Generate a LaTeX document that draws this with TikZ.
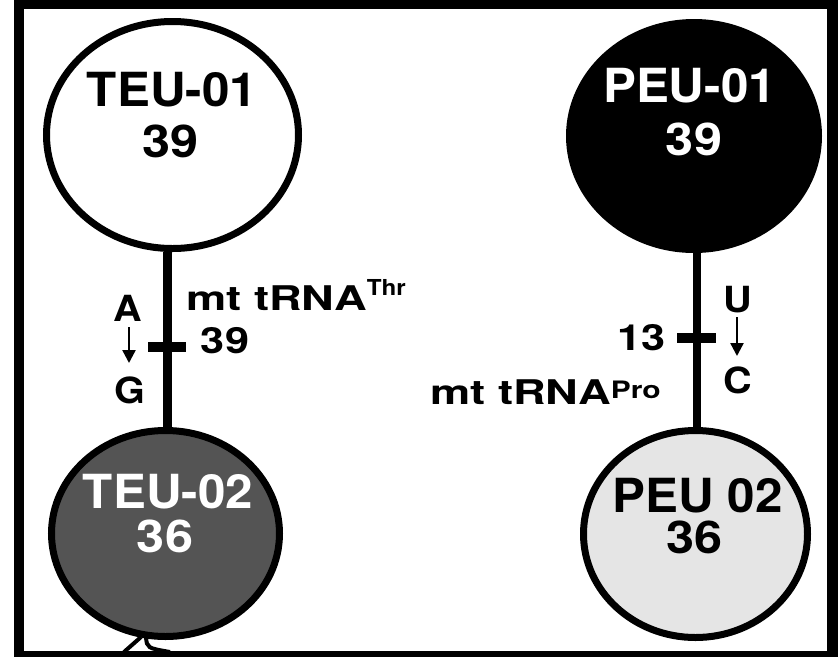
\documentclass[tikz,border=0pt]{standalone}
\usepackage{fontspec}
\setmainfont{TeX Gyre Heros}
\usepackage{graphicx}
\usetikzlibrary{shapes.geometric,arrows.meta}
% horizontally widened text
\newcommand{\wide}[2]{\scalebox{#1}[1]{#2}}
\begin{document}
\begin{tikzpicture}[x=1pt,y=-1pt,
  cell/.style={ellipse,draw=black,line width=7pt,inner sep=0pt},
  stem/.style={line width=8.5pt},
  tick/.style={line width=10pt},
  txt/.style={inner sep=0pt,anchor=base},
  namefont/.style={font=\fontsize{47}{47}\selectfont\bfseries},
  numfont/.style={font=\fontsize{45}{45}\selectfont\bfseries},
  labfont/.style={font=\fontsize{34}{34}\selectfont\bfseries},
  basefont/.style={font=\fontsize{36}{36}\selectfont\bfseries},
  mut/.style={line width=2.4pt,-{Triangle[length=13pt,width=13pt]}}]
\useasboundingbox (0,0) rectangle (838,657);
\clip (0,0) rectangle (838,657);

% frame
\fill[black] (14,0) rectangle (838,657);
\fill[white] (24,9) rectangle (827,651);

% cells
\node[cell,fill=white,minimum width=252pt,minimum height=227pt] (teu01) at (172.5,135) {};
\node[cell,fill=black,minimum width=249pt,minimum height=227pt] (peu01) at (694,136) {};
\node[cell,fill=black!67,minimum width=228pt,minimum height=206pt] (teu02) at (165.5,533.5) {};
\node[cell,fill=black!10,minimum width=224pt,minimum height=207pt] (peu02) at (695.5,534) {};

% cell labels
\node[txt,namefont] (teu01name) at (172,106) {\wide{1.05}{TEU-01}};
\node[txt,numfont] (teu01num) at (170.5,157) {\wide{1.12}{39}};
\node[txt,namefont,text=white] (peu01name) at (689.5,102) {\wide{1.05}{PEU-01}};
\node[txt,numfont,text=white] (peu01num) at (694,155) {\wide{1.12}{39}};
\node[txt,namefont,text=white] (teu02name) at (168,508) {\wide{1.05}{TEU-02}};
\node[txt,numfont,text=white] (teu02num) at (165,552) {\wide{1.12}{36}};
\node[inner sep=0pt,anchor=north,align=center,
      font=\fontsize{47}{40}\selectfont\bfseries] (peu02lab) at (697.5,478)
  {\wide{1.05}{PEU 02}\\[1.5pt]\hspace*{-6pt}\fontsize{45}{40}\selectfont\wide{1.12}{36}};

% lineage stems with mutation ticks
\coordinate (mutL) at (167.5,347);
\coordinate (mutR) at (697,338);
\draw[stem] (mutL |- teu01.south) -- (mutL |- teu02.north);
\draw[stem] (mutR |- peu01.south) -- (mutR |- peu02.north);
\draw[tick] ([xshift=-19.5pt]mutL) -- ([xshift=18.5pt]mutL);
\draw[tick] ([xshift=-20pt]mutR) -- ([xshift=19pt]mutR);

% left mutation: A -> G at 39
\node[txt,basefont] (baseA) at (128,321) {\wide{1.1}{A}};
\node[txt,basefont] (baseG) at (130,403) {\wide{1.1}{G}};
\coordinate (arrLtop) at (129,327);
\coordinate (arrLbot) at (129,363);
\draw[mut] (arrLtop) -- (arrLbot);
\node[txt,basefont] (posL) at (225,353) {\wide{1.2}{39}};
\node[txt,labfont,anchor=base west] (geneL) at (186,310)
  {\wide{1.33}{mt tRNA}\raisebox{15pt}{\fontsize{22}{22}\selectfont\wide{1.1}{Thr}}};

% right mutation: U -> C at 13
\node[txt,basefont] (baseU) at (737.5,312) {\wide{1.1}{U}};
\node[txt,basefont] (baseC) at (738,393) {\wide{1.1}{C}};
\coordinate (arrRtop) at (737,317);
\coordinate (arrRbot) at (737,356);
\draw[mut] (arrRtop) -- (arrRbot);
\node[txt,basefont] (posR) at (641.5,350) {\wide{1.2}{13}};
\node[txt,labfont,anchor=base west] (geneR) at (430,404)
  {\wide{1.33}{mt tRNA}\raisebox{6pt}{\fontsize{24}{24}\selectfont\wide{1.25}{Pro}}};

% fragment below TEU-02
\coordinate (fragA) at (124,652);
\coordinate (fragB) at (141,637);
\coordinate (fragC) at (146,637);
\coordinate (fragD) at (170,652);
\draw[line width=4pt] (fragA) -- (fragB);
\draw[line width=4pt] (fragC) .. controls (147,648) .. (fragD);
\end{tikzpicture}
\end{document}
